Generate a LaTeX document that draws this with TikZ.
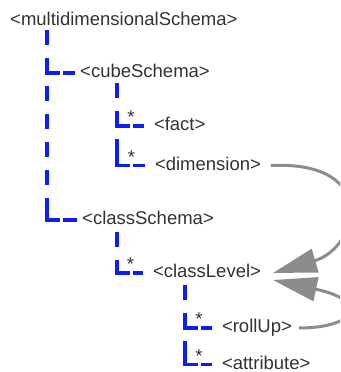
\documentclass[tikz,border=0pt]{standalone}
\usepackage{fontspec}
\setmainfont{Liberation Sans}
\usetikzlibrary{arrows.meta}
\definecolor{treeblue}{RGB}{10,30,245}
\definecolor{refgray}{RGB}{140,140,140}
\definecolor{textgray}{RGB}{50,50,50}
\tikzset{
	item/.style={anchor=west, inner xsep=5pt, inner ysep=0pt, text height=11pt, text depth=1.5pt, text=textgray, font=\fontsize{18.5}{22}\selectfont},
	starred/.style={outer xsep=5pt},
	vline/.style={draw=treeblue, line width=3.4pt, dash pattern=on 15pt off 13pt},
	arm/.style={draw=treeblue, line width=3.4pt, line join=miter, dash pattern=on 24.5pt off 3.5pt on 40pt off 1pt},
	mult/.style={anchor=base, inner sep=0pt, yshift=2.4pt, text=textgray, font=\fontsize{18.5}{22}\selectfont},
	ref/.style={draw=refgray, line width=3pt, -{Triangle[length=44pt,width=24pt]}}
}

\begin{document}
\begin{tikzpicture}[x=1pt,y=-1pt]
	\path[use as bounding box, clip] (0,0) rectangle (340,372);
	\node[item] (md) at (5,21) {<multidimensionalSchema>};
	\node[item] (cube) at (75,73) {<cubeSchema>};
	\node[item,starred] (fact) at (144,126) {<fact>};
	\node[item,starred] (dim) at (145,165.5) {<dimension>};
	\node[item] (cls) at (77,220) {<classSchema>};
	\node[item,starred] (lvl) at (143,273) {<classLevel>};
	\node[item,starred] (roll) at (212,328) {<rollUp>};
	\node[item,starred] (attr) at (212,364.5) {<attribute>};
	\coordinate (mdv) at (47,30);
	\coordinate (cubev) at (117,83);
	\coordinate (clsv) at (117,232);
	\coordinate (lvlv) at (185,285);
	\foreach \p/\c/\m in {mdv/cube/, mdv/cls/, cubev/fact/*, cubev/dim/*, clsv/lvl/*, lvlv/roll/*, lvlv/attr/*}{
		\draw[vline] (\p) -- (\p |- \c.west);
		\draw[arm] ([yshift=12pt]\p |- \c.west) -- (\p |- \c.west) -- node[mult,pos=0.52]{\m} (\c.west);
	}
	\draw[ref] (dim.east) .. controls +(110,-5) and +(85,-25) .. ([xshift=2pt]lvl.east);
	\draw[ref] ([xshift=-3pt]roll.east) .. controls +(57,0) and +(98,21) .. ([xshift=2pt,yshift=-7pt]lvl.east);
\end{tikzpicture}
\end{document}
